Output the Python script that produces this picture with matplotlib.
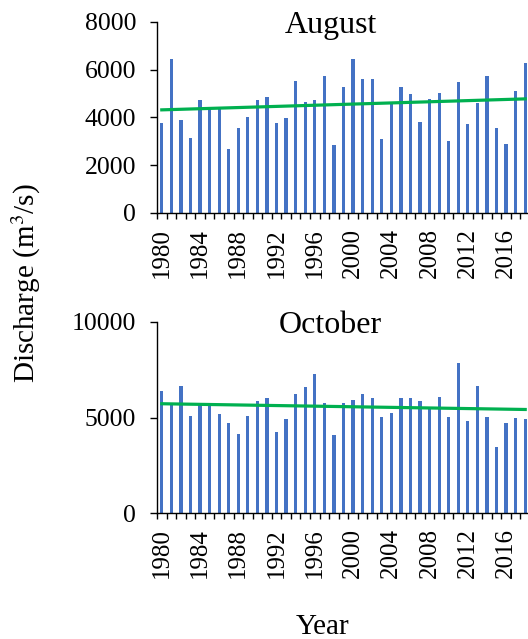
import numpy as np
import matplotlib
matplotlib.use("Agg")
import matplotlib.pyplot as plt

plt.rcParams['font.family'] = ['Liberation Serif', 'DejaVu Serif']
plt.rcParams['mathtext.fontset'] = 'stix'

years = list(range(1980, 2019))
august = [3780, 6450, 3900, 3160, 4740, 4360, 4460, 2690, 3540, 4000,
          4720, 4840, 3760, 3960, 5510, 4640, 4730, 5740, 2840, 5260,
          6450, 5600, 5600, 3080, 4560, 5260, 4970, 3830, 4760, 5030,
          3020, 5480, 3730, 4620, 5740, 3540, 2870, 5100, 6270]
october = [6370, 5700, 6640, 5060, 5770, 5660, 5160, 4690, 4110, 5090,
           5860, 6020, 4250, 4930, 6210, 6610, 7290, 5740, 4080, 5740,
           5930, 6230, 6000, 5030, 5240, 6000, 6020, 5890, 5500, 6050,
           5020, 7870, 4810, 6660, 5020, 3460, 4690, 4950, 4910]
# trend line end values (1980, 2018)
aug_trend = [4320, 4780]
oct_trend = [5720, 5420]

titles = ['August', 'October']
ymax = [8000, 10000]
ystep = [2000, 5000]

blue = '#4472C4'
green = '#00B050'

fig = plt.figure(figsize=(5.28, 6.39), dpi=100)
ax1 = fig.add_axes([157/528, 1 - 213/639, 373/528, 191/639])
ax2 = fig.add_axes([157/528, 1 - 513/639, 373/528, 191/639])

for ax, vals, trend, title, ym, ys in zip([ax1, ax2], [august, october],
                                         [aug_trend, oct_trend], titles, ymax, ystep):
    ax.bar(years, vals, width=0.34, color=blue, zorder=2)
    ax.plot([years[0], years[-1]], trend, color=green, linewidth=2.3, zorder=3)
    ax.set_xlim(1979.5, 2018.5)
    ax.set_ylim(0, ym)
    ax.set_yticks(np.arange(0, ym + 1, ys))
    ax.set_xticks(years[::4])
    ax.set_xticklabels([str(y) for y in years[::4]], rotation=90)
    ax.set_xticks(np.arange(1979.5, 2019, 1), minor=True)
    ax.tick_params(axis='x', which='major', length=0, labelsize=18, pad=11)
    ax.tick_params(axis='x', which='minor', length=4, width=1, direction='out')
    ax.tick_params(axis='y', length=5, width=1, labelsize=18.5, pad=10)
    ax.spines['top'].set_visible(False)
    ax.spines['right'].set_visible(False)
    ax.spines['left'].set_linewidth(1)
    ax.spines['bottom'].set_linewidth(1)
    ax.text(0.465, 0.98, title, transform=ax.transAxes, ha='center', va='center',
            fontsize=23)

fig.text(0.05, 0.557, 'Discharge (m$^{3}$/s)', rotation=90, ha='center',
         va='center', fontsize=21)
fig.text(0.61, 0.018, 'Year', ha='center', va='center', fontsize=21)

fig.savefig('out.png', dpi=100)
